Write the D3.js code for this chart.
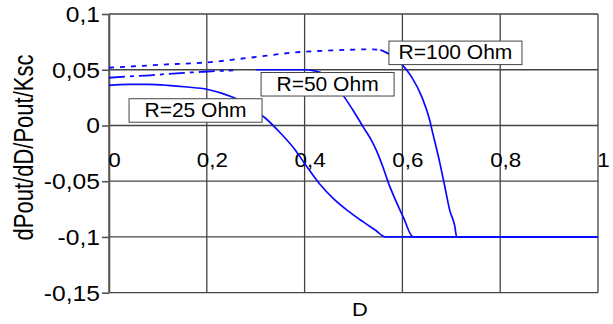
<!DOCTYPE html>
<html>
<head>
<meta charset="utf-8">
<script src="https://cdn.jsdelivr.net/npm/d3@7"></script>
<style>
  body { margin: 0; background: #fff; overflow: hidden; }
  svg { display: block; }
  text { font-family: "Liberation Sans", Arial, sans-serif; fill: #000; }
</style>
</head>
<body>
<div id="chart"></div>
<script>
// Values
var xTicks = [0, 0.2, 0.4, 0.6, 0.8, 1];
var xTickLabels = ["0", "0,2", "0,4", "0,6", "0,8", "1"];
var yTicks = [0.1, 0.05, 0, -0.05, -0.1, -0.15];
var yTickLabels = ["0,1", "0,05", "0", "-0,05", "-0,1", "-0,15"];

var seriesNames = ["R=25 Ohm", "R=50 Ohm", "R=100 Ohm"];

var d25 = [0, 0.04, 0.08, 0.12, 0.16, 0.2, 0.23, 0.26, 0.29, 0.32, 0.35, 0.38, 0.4, 0.43, 0.46, 0.49, 0.52, 0.545, 0.565, 0.8, 1];
var v25 = [0.036, 0.0368, 0.0368, 0.036, 0.0345, 0.0325, 0.029, 0.024, 0.0158, 0.0065, -0.0065, -0.0215, -0.034, -0.052, -0.066, -0.077, -0.0865, -0.094, -0.1, -0.1, -0.1];

var d50 = [0, 0.04, 0.084, 0.13, 0.186, 0.22, 0.254, 0.3, 0.35, 0.4, 0.42, 0.44, 0.46, 0.479, 0.5, 0.52, 0.537, 0.547, 0.56, 0.571, 0.588, 0.602, 0.622, 0.8, 1];
var v50 = [0.0428, 0.044, 0.045, 0.0466, 0.048, 0.0488, 0.0494, 0.05, 0.05, 0.05, 0.049, 0.046, 0.039, 0.027, 0.013, -0.0015, -0.0135, -0.0225, -0.037, -0.051, -0.069, -0.0824, -0.1, -0.1, -0.1];

var d100 = [0, 0.06, 0.118, 0.2, 0.288, 0.39, 0.459, 0.54, 0.555, 0.575, 0.599, 0.619, 0.64, 0.656, 0.66, 0.677, 0.687, 0.697, 0.707, 0.711, 0.8, 1];
var v100 = [0.0518, 0.0533, 0.0548, 0.0566, 0.0608, 0.0659, 0.0674, 0.0683, 0.0678, 0.0635, 0.0548, 0.0434, 0.0254, 0.0045, -0.003, -0.0344, -0.0554, -0.0764, -0.09, -0.1, -0.1, -0.1];

var svgWidth = 613;
var svgHeight = 324;

var svg = d3.select("#chart")
    .append("svg")
    .attr("width", svgWidth)
    .attr("height", svgHeight);

var x = d3.scaleLinear().domain([0, 1]).range([109, 598]);
var y = d3.scaleLinear().domain([-0.15, 0.1]).range([292.7, 14]);

// gridlines
svg.append("g").selectAll("line")
    .data(xTicks)
    .enter()
    .append("line")
    .attr("x1", d => x(d)).attr("x2", d => x(d))
    .attr("y1", y(0.1)).attr("y2", y(-0.15))
    .attr("stroke", "#444")
    .attr("stroke-width", 1.3);

svg.append("g").selectAll("line")
    .data(yTicks)
    .enter()
    .append("line")
    .attr("x1", x(0)).attr("x2", x(1))
    .attr("y1", d => y(d)).attr("y2", d => y(d))
    .attr("stroke", "#444")
    .attr("stroke-width", 1.3);

// y axis with outward ticks
var leftAxis = d3.axisLeft(y).tickValues(yTicks).tickSize(7).tickSizeOuter(0).tickFormat("");
var yAxisG = svg.append("g")
    .attr("transform", `translate(${x(0)},0)`)
    .call(leftAxis);
yAxisG.selectAll("path, line").attr("stroke", "#555").attr("stroke-width", 1.6);

// tick labels
svg.append("g").selectAll("text")
    .data(yTicks)
    .enter()
    .append("text")
    .attr("transform", d => `translate(100,${y(d) + 8}) scale(1.12,1)`)
    .attr("text-anchor", "end")
    .attr("font-size", "22px")
    .text((d, i) => yTickLabels[i]);

svg.append("g").selectAll("text")
    .data(xTicks)
    .enter()
    .append("text")
    .attr("transform", d => `translate(${x(d) + 5.5},167.3) scale(1.15,1)`)
    .attr("text-anchor", "middle")
    .attr("font-size", "19.5px")
    .text((d, i) => xTickLabels[i]);

// axis titles
svg.append("text")
    .attr("transform", "translate(33,147.5) rotate(-90) scale(1,1.25)")
    .attr("text-anchor", "middle")
    .attr("font-size", "22px")
    .text("dPout/dD/Pout/Ksc");

svg.append("text")
    .attr("transform", "translate(360,316) scale(1.15,1)")
    .attr("text-anchor", "middle")
    .attr("font-size", "19px")
    .text("D");

// curves
var line = d3.line()
    .curve(d3.curveMonotoneX)
    .x(d => x(d[0]))
    .y(d => y(d[1]));

function drawSeries(ds, vs, dashUntil, dash) {
    var pts = ds.map((d, i) => [d, vs[i]]);
    var first = pts.filter(p => p[0] <= dashUntil);
    var rest = pts.filter(p => p[0] >= dashUntil);
    if (first.length > 1) {
        svg.append("path")
            .attr("d", line(first))
            .attr("fill", "none")
            .attr("stroke", "#0a0aff")
            .attr("stroke-width", 1.8)
            .attr("stroke-dasharray", dash);
    }
    svg.append("path")
        .attr("d", line(rest))
        .attr("fill", "none")
        .attr("stroke", "#0a0aff")
        .attr("stroke-width", 1.7);
}

drawSeries(d25, v25, -1, null);
drawSeries(d50, v50, 0.26, "16,5,4,5");
drawSeries(d100, v100, 0.555, "5,6");

// series labels
var labelAnchors = [[0.041, 0.024], [0.311, 0.0475], [0.5725, 0.0757]];

var labels = svg.append("g").selectAll("g")
    .data(seriesNames)
    .enter()
    .append("g")
    .attr("transform", (d, i) => `translate(${x(labelAnchors[i][0])},${y(labelAnchors[i][1])})`);

labels.append("rect")
    .attr("width", 133)
    .attr("height", 23.5)
    .attr("fill", "#fff")
    .attr("stroke", "#444")
    .attr("stroke-width", 1);

labels.append("text")
    .attr("x", 66.5)
    .attr("y", 18.4)
    .attr("text-anchor", "middle")
    .attr("font-size", "21px")
    .text(d => d);
</script>
</body>
</html>
